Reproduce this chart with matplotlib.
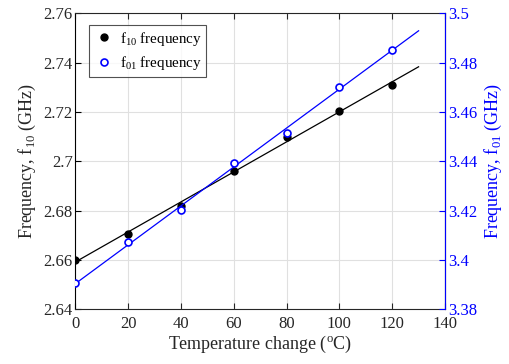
import numpy as np
import matplotlib
matplotlib.use("Agg")
import matplotlib.pyplot as plt

plt.rcParams['font.family'] = ['Liberation Serif', 'DejaVu Serif']
plt.rcParams['mathtext.fontset'] = 'custom'
plt.rcParams['mathtext.rm'] = 'Liberation Serif'

temp = [0, 20, 40, 60, 80, 100, 120]
f10 = [2.660, 2.6706, 2.6821, 2.6961, 2.7100, 2.7203, 2.7311]
f01 = [3.3905, 3.4072, 3.4204, 3.4393, 3.4513, 3.4702, 3.4853]
fit_x = [0, 130]

c10 = np.polyfit(temp, f10, 1)
c01 = np.polyfit(temp, f01, 1)

fig = plt.figure(figsize=(5.1, 3.64), dpi=100)
ax = fig.add_axes([0.148, 0.150, 0.7245, 0.8135])
ax2 = ax.twinx()

ax.plot(fit_x, np.polyval(c10, fit_x), color='black', lw=0.9, zorder=2)
h1, = ax.plot(temp, f10, 'o', color='black', ms=5, zorder=3, label=r'f$_{10}$ frequency')
ax2.plot(fit_x, np.polyval(c01, fit_x), color='blue', lw=0.9)
h2, = ax2.plot(temp, f01, 'o', mfc='white', mec='blue', mew=1.2, ms=5, label=r'f$_{01}$ frequency')

ax.set_xlim(0, 140)
ax.set_ylim(2.64, 2.76)
ax2.set_ylim(3.38, 3.5)
ax.set_xticks(range(0, 141, 20))
ax.set_yticks(np.arange(2.64, 2.761, 0.02))
ax.set_yticklabels(['2.64', '2.66', '2.68', '2.7', '2.72', '2.74', '2.76'])
ax2.set_yticks(np.arange(3.38, 3.501, 0.02))
ax2.set_yticklabels(['3.38', '3.4', '3.42', '3.44', '3.46', '3.48', '3.5'])

gray = '#262626'
ax.grid(True, color='#e0e0e0', lw=0.8)
ax.set_axisbelow(True)
ax.tick_params(axis='both', direction='in', labelsize=12, colors=gray, length=4, top=True)
ax.tick_params(axis='x', pad=5)
ax.tick_params(axis='y', colors='black', labelcolor=gray, pad=2)
ax2.tick_params(axis='y', direction='in', labelsize=12, colors='blue', length=4, pad=2)
for s in ['left', 'bottom', 'top']:
    ax.spines[s].set_color('black' if s == 'left' else gray)
ax2.spines['right'].set_color('blue')
ax2.spines['left'].set_visible(False)
ax2.spines['top'].set_visible(False)
ax2.spines['bottom'].set_visible(False)

ax.set_xlabel(r'Temperature change ($^{\mathrm{o}}$C)', fontsize=13, color=gray, labelpad=1)
ax.set_ylabel(r'Frequency, f$_{10}$ (GHz)', fontsize=13, color=gray, labelpad=4)
ax2.set_ylabel(r'Frequency, f$_{01}$ (GHz)', fontsize=13, color='blue', labelpad=4)

leg = ax.legend(handles=[h1, h2], loc='upper left', fontsize=10.8, frameon=True,
                fancybox=False, edgecolor=gray, borderpad=0.3, handletextpad=0.3,
                labelspacing=0.45, bbox_to_anchor=(0.015, 0.985), handlelength=1.5)
leg.get_frame().set_linewidth(0.8)

fig.savefig('out.png', dpi=100)
